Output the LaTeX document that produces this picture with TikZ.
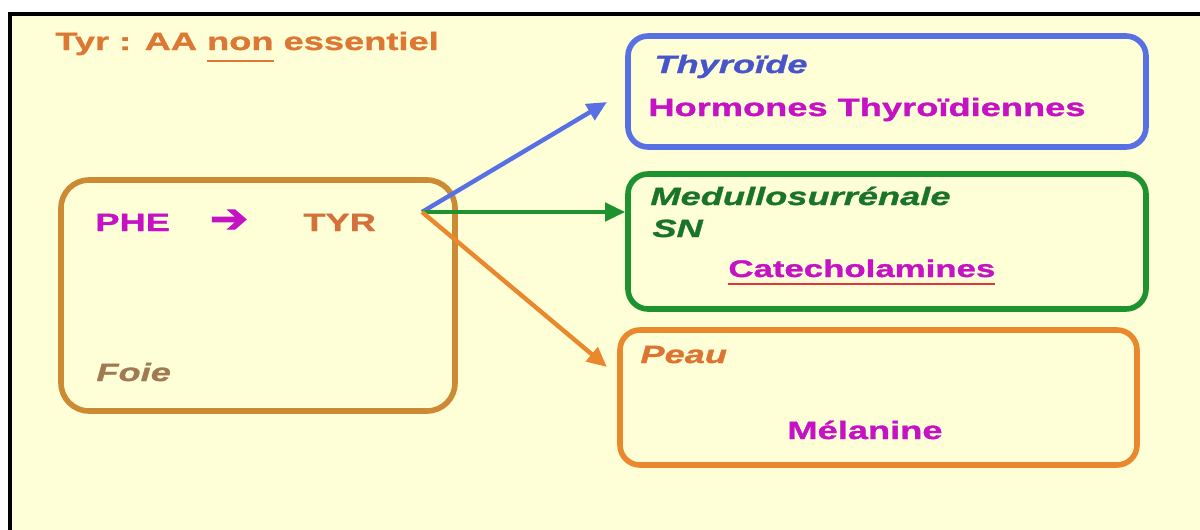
\documentclass[tikz,border=0pt]{standalone}
\usepackage{fontspec}
\setmainfont{Liberation Sans}[FakeStretch=1.45,
  BoldFeatures={FakeBold=1.2}, BoldItalicFeatures={FakeBold=1.2}]
\newfontfamily\arrowfont{DejaVu Sans}[FakeStretch=1.15, FakeBold=2.5]
\usepackage{tikz}
\usetikzlibrary{arrows.meta}
\definecolor{tyr_bg}{RGB}{255,255,215}
\definecolor{tyr_title}{RGB}{221,120,52}
\definecolor{foie_brown}{RGB}{204,138,52}
\definecolor{foie_text}{RGB}{160,122,82}
\definecolor{tyr_mag}{RGB}{196,18,196}
\definecolor{tyr_orange}{RGB}{212,112,60}
\definecolor{thyro_blue}{RGB}{88,112,228}
\definecolor{thyro_text}{RGB}{72,84,204}
\definecolor{medul_green}{RGB}{30,146,46}
\definecolor{medul_text}{RGB}{26,116,40}
\definecolor{peau_orange}{RGB}{234,136,46}
\definecolor{peau_text}{RGB}{222,116,50}
\definecolor{cat_red}{RGB}{226,52,62}
% underline with its own colour and depth
\newcommand{\ulin}[3]{{\setbox0\hbox{#3}\rlap{\textcolor{#1}{\rule[-#2]{\wd0}{0.8pt}}}\box0}}

\begin{document}
\begin{tikzpicture}[
      x=0.5pt, y=-0.5pt,
      box/.style={draw, line width=2.8pt, rounded corners=10pt, inner sep=0pt},
      arr/.style={-{Triangle[length=10pt,width=9pt]}, line width=2.2pt},
      txt/.style={anchor=base west, inner sep=0pt,
                  font=\bfseries\fontsize{12.5}{15}\selectfont},
      head/.style={txt, font=\bfseries\itshape\fontsize{12.5}{15}\selectfont},
    ]
    \useasboundingbox (0,0) rectangle (1200,530);
    \fill[white] (0,0) rectangle (1200,530);
    \fill[tyr_bg] (10,14) rectangle (1200,530);
    \draw[black, line width=2pt] (10,530) -- (10,14) -- (1200,14);

    \node[txt, text=tyr_title] (title) at (55,50)
      {Tyr : AA \ulin{tyr_title}{6pt}{non} essentiel};

    % source box
    \node[box, draw=foie_brown, rounded corners=14pt,
          minimum width=197pt, minimum height=115.5pt] (foie) at (258,295.5) {};
    \node[txt, text=tyr_mag] (phe) at (95,231) {PHE};
    \node[text=tyr_mag, inner sep=0pt, font=\arrowfont\fontsize{20}{20}\selectfont]
      (conv) at (229,221) {➔};
    \node[txt, text=tyr_orange] (tyr) at (303,231) {TYR};
    \node[head, text=foie_text] (foie_lbl) at (96,381) {Foie};

    % target boxes
    \node[box, draw=thyro_blue, minimum width=259pt, minimum height=55.5pt]
      (thyro) at (887,91.5) {};
    \node[box, draw=medul_green, minimum width=259pt, minimum height=67.5pt]
      (medul) at (887,241.5) {};
    \node[box, draw=peau_orange, minimum width=258.5pt, minimum height=67.5pt]
      (peau) at (878.5,397.5) {};

    \node[head, text=thyro_text] (thyro_lbl) at (654,73) {Thyroïde};
    \node[txt, text=tyr_mag] (horm) at (648,116) {Hormones Thyroïdiennes};

    \node[head, text=medul_text] (medul_lbl) at (650,205) {Medullosurrénale};
    \node[head, text=medul_text] (sn) at (652,237) {SN};
    \node[txt, text=tyr_mag, font=\bfseries\fontsize{12}{15}\selectfont] (cat) at (728,277)
      {\ulin{cat_red}{4pt}{Catecholamines}};

    \node[head, text=peau_text] (peau_lbl) at (640,363) {Peau};
    \node[txt, text=tyr_mag] (mela) at (787,439) {Mélanine};

    % connectors
    \coordinate (src) at (422,212);
    \coordinate (thyro_in) at (607,102);
    \coordinate (medul_in) at (src -| medul.west);
    \coordinate (peau_in) at (607,367);
    \draw[arr, thyro_blue] (src) -- (thyro_in);
    \draw[arr, medul_green] (src) -- (medul_in);
    \draw[arr, peau_orange] (src) -- (peau_in);
  \end{tikzpicture}
\end{document}
